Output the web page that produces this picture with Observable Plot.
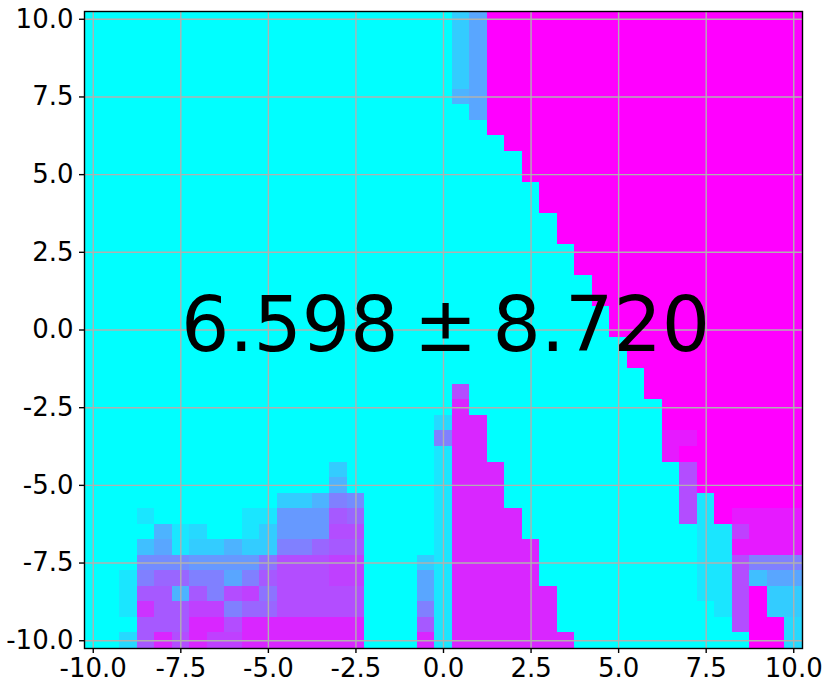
<!DOCTYPE html>
<html>
<head>
<meta charset="utf-8">
<script src="https://cdn.jsdelivr.net/npm/d3@7"></script>
<script src="https://cdn.jsdelivr.net/npm/@observablehq/plot@0.6"></script>
<style>html,body{margin:0;padding:0;background:#fff}svg{display:block}</style>
</head>
<body>
<div id="chart"></div>
<script>
// each row (top to bottom) holds 41 cell levels in base 21: 0 = 0.0 ... k = 1.0 (20ths)
const levelRows = [
"0000000000 0000000000 047kkkkkkk kkkkkkkkkk k",
"0000000000 0000000000 047kkkkkkk kkkkkkkkkk k",
"0000000000 0000000000 047kkkkkkk kkkkkkkkkk k",
"0000000000 0000000000 047kkkkkkk kkkkkkkkkk k",
"0000000000 0000000000 047kkkkkkk kkkkkkkkkk k",
"0000000000 0000000000 067kkkkkkk kkkkkkkkkk k",
"0000000000 0000000000 007kkkkkkk kkkkkkkkkk k",
"0000000000 0000000000 000kkkkkkk kkkkkkkkkk k",
"0000000000 0000000000 0000kkkkkk kkkkkkkkkk k",
"0000000000 0000000000 00000kkkkk kkkkkkkkkk k",
"0000000000 0000000000 00000kkkkk kkkkkkkkkk k",
"0000000000 0000000000 000000kkkk kkkkkkkkkk k",
"0000000000 0000000000 000000kkkk kkkkkkkkkk k",
"0000000000 0000000000 0000000kkk kkkkkkkkkk k",
"0000000000 0000000000 0000000kkk kkkkkkkkkk k",
"0000000000 0000000000 00000000kk kkkkkkkkkk k",
"0000000000 0000000000 00000000kk kkkkkkkkkk k",
"0000000000 0000000000 000000000k kkkkkkkkkk k",
"0000000000 0000000000 000000000k kkkkkkkkkk k",
"0000000000 0000000000 0000000000 kkkkkkkkkk k",
"0000000000 0000000000 0000000000 kkkkkkkkkk k",
"0000000000 0000000000 0000000000 0kkkkkkkkk k",
"0000000000 0000000000 0000000000 0kkkkkkkkk k",
"0000000000 0000000000 0000000000 00kkkkkkkk k",
"0000000000 0000000000 0e00000000 00kkkkkkkk k",
"0000000000 0000000000 0h00000000 000kkkkkkk k",
"0000000000 0000000000 3hh0000000 000kkkkkkk k",
"0000000000 0000000000 ahh0000000 000iikkkkk k",
"0000000000 0000000000 2hh0000000 000ikkkkkk k",
"0000000000 0000400000 2hhh000000 0000ekkkkk k",
"0000000000 0000600000 2hhh000000 0000ekkkkk k",
"0000000000 0446a90000 2hhh000000 0000e2kkkk k",
"0002000002 2888dc0000 2hhhh00000 0000e2kiii i",
"0000623002 4888ee0000 2hhhh00000 0000022fii i",
"0005724464 4aacdd0000 2hhhhh0000 0000022iii i",
"0009998888 beeeff0004 2hhhhh0000 0000022eaa a",
"002accaa7a deeeff0007 2hhhhh0000 0000022e57 7",
"002dd6daef beeeee0007 2hhhhhh000 0000022ek4 4",
"002gddffac ceeeee000a 2hhhhhh000 0000002ek4 4",
"000dddhheh hhhhhh000d 2hhhhhh000 0000000ekk 3",
"003dhehffh hhhhhh000h 2hhhhhhh00 00000000kk 3"
];
const tickValues = [-10, -7.5, -5, -2.5, 0, 2.5, 5, 7.5, 10];
const annotation = "6.598\u2009\u00b1\u20098.720";
const extent = [-10.25, 10.25];
const cellSize = 0.5;

const cells = levelRows.flatMap((row, r) =>
  row.replace(/ /g, "").split("").map((ch, c) => ({
    x1: extent[0] + c * cellSize,
    x2: extent[0] + (c + 1) * cellSize,
    y1: extent[1] - r * cellSize,
    y2: extent[1] - (r + 1) * cellSize,
    value: parseInt(ch, 21) / 20
  }))
);

const fmt = d => d.toFixed(1);
const chart = Plot.plot({
  width: 830,
  height: 690,
  marginLeft: 84,
  marginRight: 28,
  marginTop: 11,
  marginBottom: 42,
  style: {fontFamily: "'DejaVu Sans'", background: "#fff", overflow: "visible"},
  x: {domain: extent, label: null},
  y: {domain: extent, label: null},
  color: {type: "linear", domain: [0, 1], range: ["#00ffff", "#ff00ff"], interpolate: "rgb"},
  marks: [
    Plot.rect(cells, {x1: "x1", x2: "x2", y1: "y1", y2: "y2", fill: "value", shapeRendering: "crispEdges"}),
    Plot.gridX(tickValues, {stroke: "#b0b0b0", strokeOpacity: 1, strokeWidth: 1.4}),
    Plot.gridY(tickValues, {stroke: "#b0b0b0", strokeOpacity: 1, strokeWidth: 1.4}),
    Plot.frame({stroke: "#000", strokeWidth: 1.4}),
    Plot.axisX(tickValues, {tickSize: 5, tickPadding: 5, tickFormat: fmt, fontSize: 26, stroke: "#000", strokeWidth: 1.4, label: null, fill: "#000"}),
    Plot.axisY(tickValues, {tickSize: 5, tickPadding: 6, tickFormat: fmt, fontSize: 26, stroke: "#000", strokeWidth: 1.4, label: null, fill: "#000"}),
    Plot.text([annotation], {x: () => 0, y: () => 0, text: d => d, fontSize: 76, fill: "#000", textAnchor: "middle", dx: 2, dy: -3})
  ]
});
document.getElementById("chart").appendChild(chart);
</script>
</body>
</html>
